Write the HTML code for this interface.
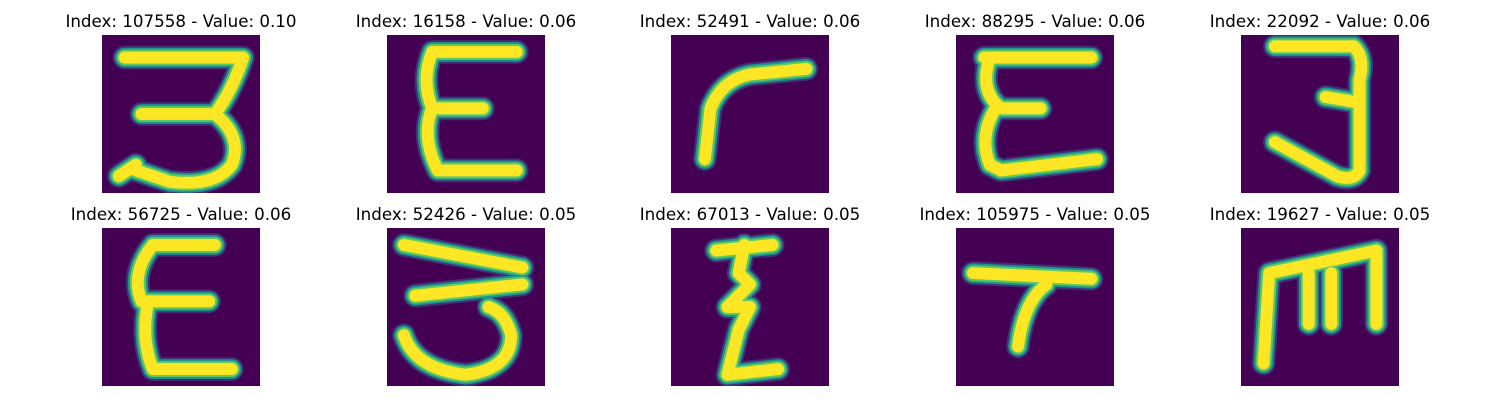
<!DOCTYPE html>
<html><head><meta charset="utf-8"><style>
body{margin:0;background:#fff;width:1500px;height:400px;overflow:hidden}
svg{display:block}
</style></head><body>
<svg id="fig" width="1500" height="400" viewBox="0 0 1500 400" xmlns="http://www.w3.org/2000/svg"></svg>
<script>
const indices = [107558,16158,52491,88295,22092,56725,52426,67013,105975,19627];
const values = ["0.10","0.06","0.06","0.06","0.06","0.06","0.05","0.05","0.05","0.05"];
const strokes = [
 ["M4,4 L25,4 Q23,10 20,14 M7,14 L20,14 Q25,18 23,23 Q20,27 12,26 L6,24 M3,25 L6,23"],
 ["M8,3 L23,3 M8,3 Q6,8 8,13 Q6,18 9,24 L23,24 M9,13 L17,13"],
 ["M6,22 L7,13 Q9,8 14,7 L24,6"],
 ["M5,4 L24,4 M6,4 Q4,10 8,13 L15,13 M7,13 Q4,18 6,23 L8,24 L25,22"],
 ["M6,2 L20,2 Q22,4 21,8 L21,12 M15,11 L21,12 L21,24 Q20,26 17,25 L6,19"],
 ["M9,3 L20,3 M9,3 Q5,8 7,13 L19,13 M8,14 Q7,20 9,25 L23,25"],
 ["M3,3 L24,7 M5,12 L24,10 M3,19 Q5,25 14,26 Q22,25 22,19 Q21,15 18,14"],
 ["M8,4 L18,3 M13,3 L12,8 L14,10 L10,14 L14,14 L12,18 L10,26 L19,25"],
 ["M3,8 L24,9 M16,10 Q12,13 11,21"],
 ["M4,24 L5,8 M5,8 L24,4 L24,17 M12,8 L12,17 M16,8 L16,17"]
];
const svg = document.getElementById('fig');
const NS = 'http://www.w3.org/2000/svg';
const colX = [102,387,671,956,1241], rowY = [35,228], S = 158, k = S/28;
for (let i = 0; i < 10; i++) {
  const x = colX[i%5], y = rowY[Math.floor(i/5)];
  const g = document.createElementNS(NS,'g');
  
  
  const t = document.createElementNS(NS,'text');
  
  
  t.setAttribute('x', x + S/2); t.setAttribute('y', y - 8);
  t.setAttribute('text-anchor','middle');
  t.setAttribute('font-family','"DejaVu Sans", sans-serif');
  t.setAttribute('font-size','16.7');
  t.textContent = 'Index: ' + indices[i] + ' - Value: ' + values[i];
  g.appendChild(t);
  const r = document.createElementNS(NS,'rect');
  
  
  r.setAttribute('x',x); r.setAttribute('y',y); r.setAttribute('width',S); r.setAttribute('height',S);
  r.setAttribute('fill','#440154');
  g.appendChild(r);
  const inner = document.createElementNS(NS,'g');
  inner.setAttribute('transform',`translate(${x},${y}) scale(${k})`);
  const cp = 'c'+i;
  const clip = document.createElementNS(NS,'clipPath'); clip.setAttribute('id',cp);
  const cr = document.createElementNS(NS,'rect'); cr.setAttribute('width',28); cr.setAttribute('height',28);
  clip.appendChild(cr); inner.appendChild(clip);
  inner.setAttribute('clip-path',`url(#${cp})`);
  [['#3b528b',4.2],['#21918c',3.5],['#5ec962',2.8],['#fde725',2.1]].forEach(([c,w])=>{
    const p = document.createElementNS(NS,'path');
    
    
    p.setAttribute('d', strokes[i][0]);
    p.setAttribute('fill','none'); p.setAttribute('stroke',c); p.setAttribute('stroke-width',w);
    p.setAttribute('stroke-linecap','round'); p.setAttribute('stroke-linejoin','round');
    if (c==='#3b528b') p.setAttribute('opacity','0.6');
    inner.appendChild(p);
  });
  g.appendChild(inner);
  svg.appendChild(g);
}
</script>
</body></html>
